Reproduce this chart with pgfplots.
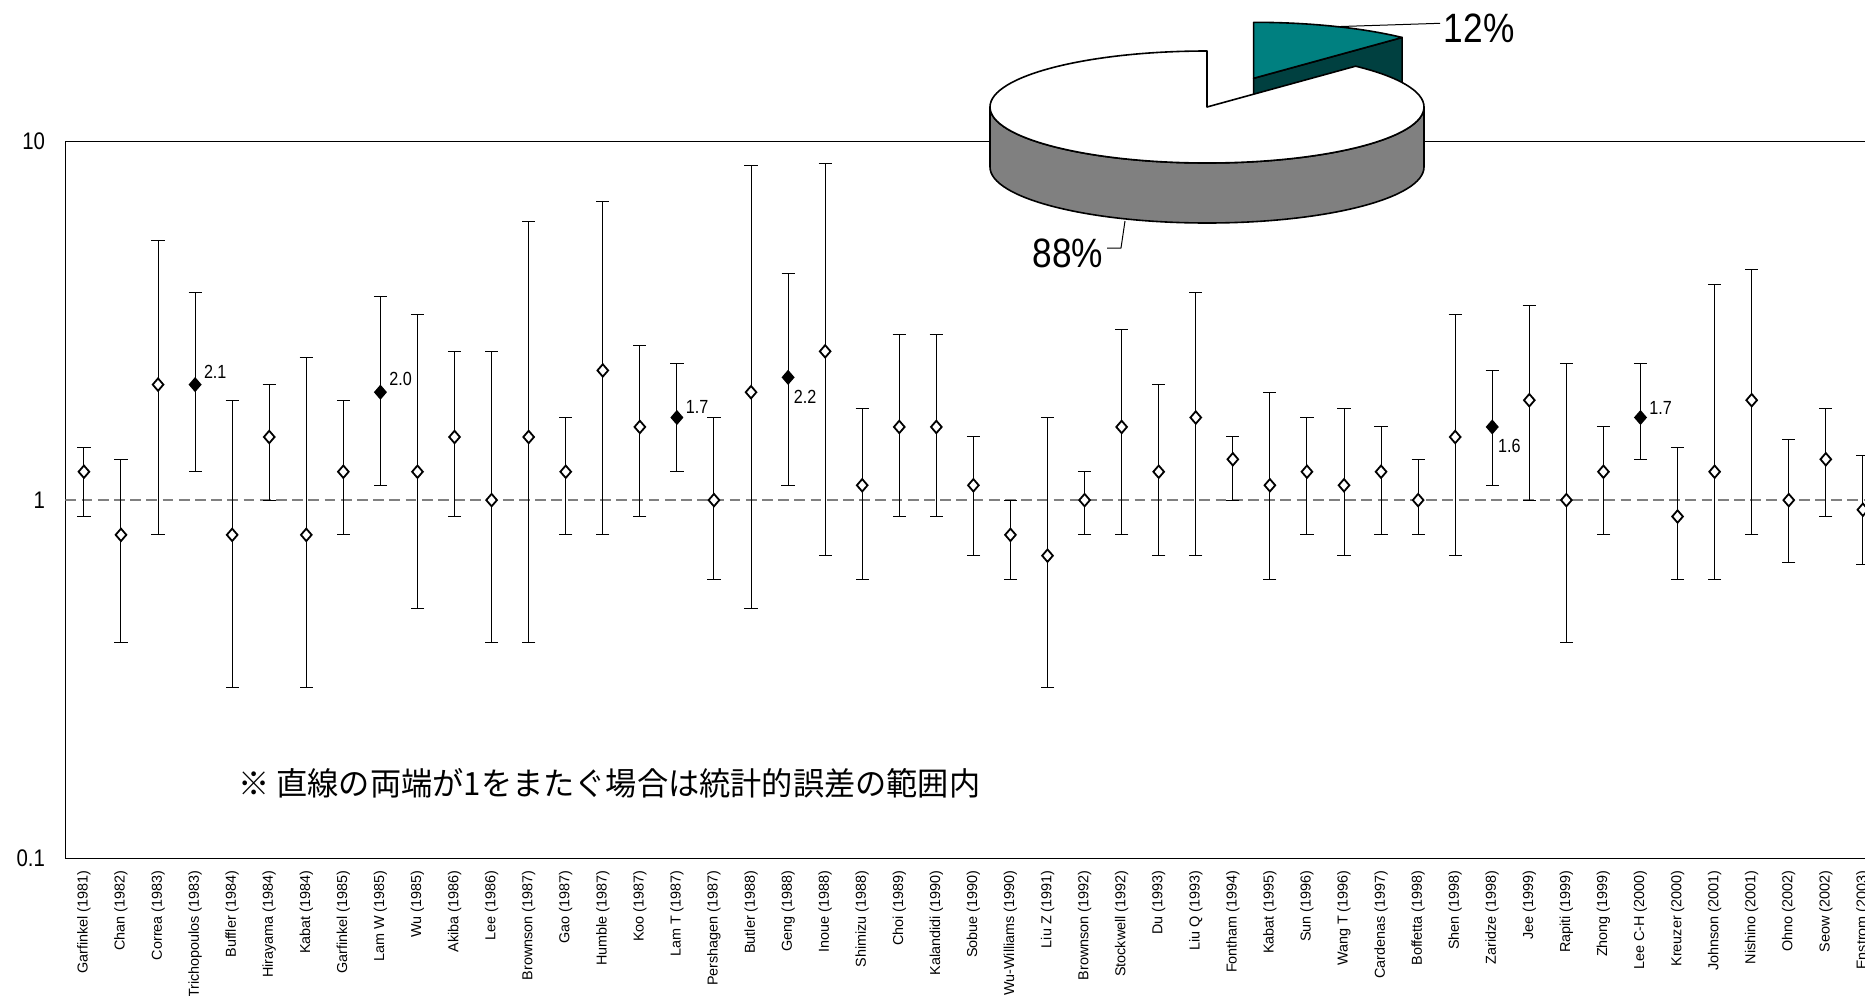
\documentclass[border=0pt]{standalone}
\usepackage{fontspec}
\setmainfont{Liberation Sans}
\newfontfamily\jp{Noto Sans CJK JP}
\usepackage{graphicx}
\usepackage{pgfplots}
\usepackage{pgfplotstable}
\pgfplotsset{compat=1.18}

\definecolor{pieteal}{HTML}{008080}
\definecolor{pieteald}{HTML}{004040}
\definecolor{piegray}{HTML}{808080}
\definecolor{refgray}{HTML}{808080}

% odds ratio with 95% CI, open markers
\pgfplotstableread{
x y lo hi
0 1.2 0.9 1.4
1 0.8 0.4 1.3
2 2.1 0.8 5.3
4 0.8 0.3 1.9
5 1.5 1.0 2.1
6 0.8 0.3 2.5
7 1.2 0.8 1.9
9 1.2 0.5 3.3
10 1.5 0.9 2.6
11 1.0 0.4 2.6
12 1.5 0.4 6.0
13 1.2 0.8 1.7
14 2.3 0.8 6.8
15 1.6 0.9 2.7
17 1.0 0.6 1.7
18 2.0 0.5 8.6
20 2.6 0.7 8.7
21 1.1 0.6 1.8
22 1.6 0.9 2.9
23 1.6 0.9 2.9
24 1.1 0.7 1.5
25 0.8 0.6 1.0
26 0.7 0.3 1.7
27 1.0 0.8 1.2
28 1.6 0.8 3.0
29 1.2 0.7 2.1
30 1.7 0.7 3.8
31 1.3 1.0 1.5
32 1.1 0.6 2.0
33 1.2 0.8 1.7
34 1.1 0.7 1.8
35 1.2 0.8 1.6
36 1.0 0.8 1.3
37 1.5 0.7 3.3
39 1.9 1.0 3.5
40 1.0 0.4 2.4
41 1.2 0.8 1.6
43 0.9 0.6 1.4
44 1.2 0.6 4.0
45 1.9 0.8 4.4
46 1.0 0.67 1.48
47 1.3 0.9 1.8
48 0.94 0.66 1.33
}\opentab

% significant ones, filled markers with labels
\pgfplotstableread{
x y lo hi dx dy lbl
3 2.1 1.2 3.8 4 6.5 2.1
8 2.0 1.1 3.7 4 6.5 2.0
16 1.7 1.2 2.4 4 5.5 1.7
19 2.2 1.1 4.3 2.5 -10 2.2
38 1.6 1.1 2.3 2.5 -9.5 1.6
42 1.7 1.3 2.4 4 5 1.7
}\sigtab

\begin{document}
\begin{tikzpicture}
\begin{axis}[
    at={(32.7pt,-429.3pt)}, anchor=south west,
    scale only axis, width=908pt, height=358.5pt,
    xmin=-0.5, xmax=48.5,
    ymode=log, ymin=0.1, ymax=10,
    axis line style={black, line width=0.6pt},
    major tick length=0pt, minor tick length=0pt,
    ytick={0.1,1,10},
    yticklabels={{\scalebox{0.85}[1]{0.1}},{\scalebox{0.85}[1]{1}},{\scalebox{0.85}[1]{10}}},
    yticklabel style={font=\fontsize{12}{14}\selectfont, inner sep=0pt, anchor=east},
    yticklabel shift=10pt,
    xtick={0,...,48},
    xticklabels={Garfinkel (1981),Chan (1982),Correa (1983),Trichopoulos (1983),Buffler (1984),Hirayama (1984),Kabat (1984),Garfinkel (1985),Lam W (1985),Wu (1985),Akiba (1986),Lee (1986),Brownson (1987),Gao (1987),Humble (1987),Koo (1987),Lam T (1987),Pershagen (1987),Butler (1988),Geng (1988),Inoue (1988),Shimizu (1988),Choi (1989),Kalandidi (1990),Sobue (1990),Wu-Williams (1990),Liu Z (1991),Brownson (1992),Stockwell (1992),Du (1993),Liu Q (1993),Fontham (1994),Kabat (1995),Sun (1996),Wang T (1996),Cardenas (1997),Boffetta (1998),Shen (1998),Zaridze (1998),Jee (1999),Rapiti (1999),Zhong (1999),Lee C-H (2000),Kreuzer (2000),Johnson (2001),Nishino (2001),Ohno (2002),Seow (2002),Enstrom (2003)},
    xticklabel style={font=\fontsize{7.2}{8}\selectfont, rotate=90, anchor=east, inner sep=0pt},
    xticklabel shift=5.7pt,
]
% reference line at 1
\addplot[draw=refgray, line width=0.75pt, dash pattern=on 5.4pt off 2.7pt, forget plot]
    coordinates {(-0.5,1) (48.5,1)};

\addplot[only marks, mark=diamond*, mark size=3.1pt,
    mark options={fill=white, draw=black, line width=0.9pt, xscale=1.15},
    error bars/.cd, y dir=both, y explicit,
    error bar style={black, line width=0.5pt},
    error mark options={rotate=90, mark size=3.3pt, line width=0.5pt, black}]
    table[x=x, y=y, y error plus expr=\thisrow{hi}-\thisrow{y},
          y error minus expr=\thisrow{y}-\thisrow{lo}] {\opentab};

\addplot[only marks, mark=diamond*, mark size=3.1pt,
    mark options={fill=black, draw=black, line width=0.9pt, xscale=1.15},
    point meta=explicit symbolic,
    visualization depends on={\thisrow{dx} \as \dx},
    visualization depends on={\thisrow{dy} \as \dy},
    nodes near coords={\scalebox{0.85}[1]{\pgfplotspointmeta}},
    nodes near coords style={anchor=west, inner sep=0pt, xshift=\dx*1pt, yshift=\dy*1pt,
        font=\fontsize{9.5}{10}\selectfont, text=black},
    error bars/.cd, y dir=both, y explicit,
    error bar style={black, line width=0.5pt},
    error mark options={rotate=90, mark size=3.3pt, line width=0.5pt, black}]
    table[x=x, y=y, meta=lbl, y error plus expr=\thisrow{hi}-\thisrow{y},
          y error minus expr=\thisrow{y}-\thisrow{lo}] {\sigtab};
\end{axis}

% note inside the plot area
\node[anchor=west, inner sep=0pt, font=\jp\fontsize{16}{18}\selectfont] at (119pt,-391.5pt)
    {\scalebox{0.975}[1]{※ 直線の両端が1をまたぐ場合は統計的誤差の範囲内}};

% 3D pie: 12% slice pulled out
\pgfmathsetmacro\pieshare{12}
\pgfmathsetmacro\angB{90-3.6*\pieshare}
\pgfmathsetmacro\angE{450-3.6*\pieshare}
\begin{scope}[x=0.5pt, y=0.5pt, line width=0.8pt, line join=round]
    % exploded slice
    \filldraw[fill=pieteald, draw=black] (1253.6,-78.3) -- ++(\angB:217 and 56)
        -- ++(0,-45) -- (1253.6,-123.3) -- cycle;
    \filldraw[fill=pieteal, draw=black] (1253.6,-78.3) -- ++(\angB:217 and 56)
        arc[start angle=\angB, end angle=90, x radius=217, y radius=56] -- cycle;
    % remaining part
    \filldraw[fill=piegray, draw=black] (990,-107)
        arc[start angle=180, end angle=360, x radius=217, y radius=56]
        -- ++(0,-60)
        arc[start angle=360, end angle=180, x radius=217, y radius=56] -- cycle;
    \filldraw[fill=white, draw=black] (1207,-107) -- ++(90:217 and 56)
        arc[start angle=90, end angle=\angE, x radius=217, y radius=56] -- cycle;
    % leaders and labels
    \draw[line width=0.5pt] (1335,-26.7) -- (1440,-23.3);
    \node[anchor=west, inner sep=0pt, font=\fontsize{20.5}{22}\selectfont] at (1443,-28)
        {\scalebox{0.86}[1]{12\%}};
    \draw[line width=0.5pt] (1107,-248) -- (1121,-248) -- (1125,-221);
    \node[anchor=east, inner sep=0pt, font=\fontsize{20.5}{22}\selectfont] at (1104,-253)
        {\scalebox{0.86}[1]{88\%}};
\end{scope}

\pgfresetboundingbox
\useasboundingbox (0,0) rectangle (932.5pt,-498pt);
\end{tikzpicture}
\end{document}
